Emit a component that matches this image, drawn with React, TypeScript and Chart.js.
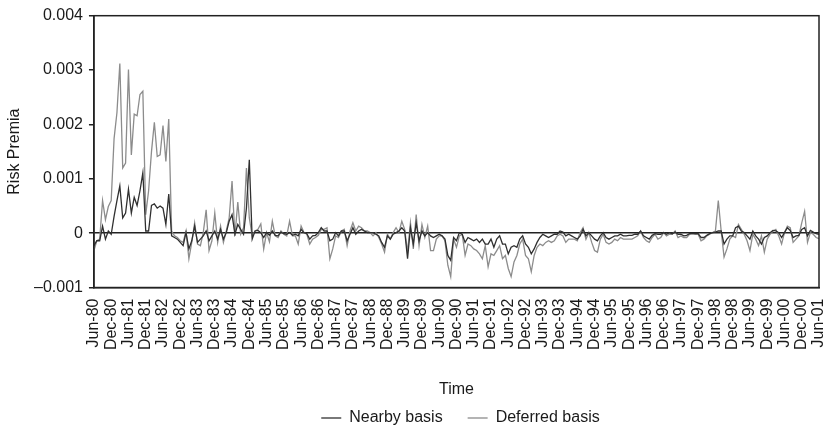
import React, { useEffect, useRef } from "react";
import { Chart, registerables } from "chart.js";

Chart.register(...registerables);

const MONTHS = ["Jan", "Feb", "Mar", "Apr", "May", "Jun", "Jul", "Aug", "Sep", "Oct", "Nov", "Dec"];
// Monthly categories Jun-80 .. Jun-01
const categories: string[] = [];
for (let i = 0; i <= 252; i++) {
  const m = (5 + i) % 12;
  const y = (80 + Math.floor((5 + i) / 12)) % 100;
  categories.push(MONTHS[m] + "-" + String(y).padStart(2, "0"));
}

const nearbyBasis = [
  -0.00023, -0.00014, -0.00014, 0.00013, -0.00011, 0.00004, -0.00002, 0.00031, 0.0006, 0.00087,
  0.00028, 0.00037, 0.00081, 0.00037, 0.00066, 0.00051, 0.00078, 0.00111, 0.00004, 0.00004,
  0.00051, 0.00054, 0.00046, 0.0005, 0.00046, 0.00016, 0.00072, -0.00005, -0.00008, -0.00011,
  -0.00017, -0.00023, 0.00001, -0.00029, -0.00014, 0.00013, -0.00017, -0.00011, -0.00005, 0.00004,
  -0.00014, -0.00005, 0.00004, -0.00011, 0.00007, -0.00011, 0.00001, 0.00022, 0.00034, -0.00002,
  0.00016, 0.00007, -0.00002, 0.00046, 0.00135, -0.00011, 0.00004, 0.00005, 0.00001, -0.00008,
  0.00001, -0.00004, 0.00004, -0.00004, -0.00005, 0.00002, -0.00001, -0.00002, 0.00001, -0.00004,
  -0.00002, -0.00005, 0.00007, 0.00001, -0.00001, -0.00011, -0.00005, -0.00004, 0.00001, 0.0001,
  0.00004, 0.00004, -0.00014, -0.00011, 0.00001, -0.00005, 0.00004, 0.00004, -0.00014, -0.00002,
  0.0001, -0.00002, 0.00004, 0.00007, 0.00004, 0.00001, 0.00001, 0.00001, -0.00002, -0.00005,
  -0.00017, -0.00026, -0.00005, -0.00011, -0.00002, 0.00001, 0.00004, 0.0001, 0.00004, -0.00047,
  0.0001, -0.0002, 0.00019, -0.00014, 0.00004, -0.00005, 0.00001, -0.00005, -0.00008, -0.00005,
  -0.00002, -0.00005, -0.00011, -0.00041, -0.0005, -0.00008, -0.00014, 0.00001, -0.00002, -0.00017,
  -0.00008, -0.00011, -0.00014, -0.00011, -0.00017, -0.00011, -0.0002, -0.0002, -0.00011, -0.00026,
  -0.00011, -0.00005, -0.0002, -0.0002, -0.00038, -0.00026, -0.00023, -0.00026, -0.00011, -0.00005,
  -0.0002, -0.00026, -0.00038, -0.00029, -0.00017, -0.00008, -0.00002, -0.00005, -0.00008, -0.00005,
  -0.00002, -0.00002, 0.00004, 0.00002, -0.00005, -0.00002, -0.00005, -0.00008, -0.00011, -0.00005,
  0.00007, -0.00005, 0.00001, -0.00005, -0.00011, -0.00014, -0.00005, 0.00001, -0.00008, -0.00011,
  -0.00008, -0.00005, -0.00005, -0.00002, -0.00005, -0.00005, -0.00004, -0.00004, -0.00002, -0.00002,
  0.00004, -0.00005, -0.00008, -0.00011, -0.00004, -0.00001, -0.00002, -0.00002, 0.00001, -0.00002,
  0.00001, -0.00001, 0.00002, -0.00002, -0.00002, -0.00005, -0.00004, -0.00001, -0.00001, -0.00001,
  -0.00001, -0.00008, -0.00008, -0.00004, -0.00001, 0.00001, 0.00002, 0.00004, 0.00004, -0.0002,
  -0.00011, -0.00005, -0.00005, 0.0001, 0.00013, 0.00004, 0.00001, -0.00005, -0.00011, 0.00004,
  -0.00005, -0.00011, -0.0002, -0.00008, -0.00005, 0.00001, 0.00005, 0.00004, 0.00001, -0.00008,
  0.00001, 0.0001, 0.00005, -0.00008, -0.00005, -0.00004, 0.00007, 0.0001, -0.00005, 0.00005,
  0.00002, -0.00001, -0.00002,
];

const deferredBasis = [
  -0.00032, -0.00014, -0.00011, 0.0006, 0.00025, 0.00049, 0.0006, 0.00174, 0.00222, 0.00312,
  0.0012, 0.00129, 0.00301, 0.00144, 0.00219, 0.00216, 0.00255, 0.00261, 0.00034, 0.00078,
  0.0015, 0.00204, 0.00141, 0.00144, 0.00198, 0.00132, 0.0021, 0.00004, -0.00005, -0.00008,
  -0.00014, -0.00017, 0.00004, -0.00047, -0.00017, 0.00019, -0.0002, -0.00023, 0.00001, 0.00043,
  -0.00032, -0.00014, 0.00037, -0.00017, 0.00013, -0.00017, 0.00004, 0.00028, 0.00096, -0.00005,
  0.00057, -0.00002, 0.0001, 0.0012, 0.00028, -0.00005, 0.00004, 0.00007, 0.00017, -0.00029,
  0.00001, -0.00016, 0.00022, -0.00005, -0.00008, 0.00004, -0.00002, -0.00005, 0.00022, -0.00005,
  -0.00005, -0.0002, 0.00013, 0.00001, -0.00002, -0.0002, -0.00011, -0.00008, -0.00004, 0.00007,
  0.00007, 0.0001, -0.00047, -0.00029, -0.00005, -0.00008, 0.00004, 0.00007, -0.00023, 0.00004,
  0.00019, 0.00004, 0.00013, 0.0001, 0.00004, 0.00004, 0.00001, -0.00005, 0.00001, -0.00008,
  -0.0002, -0.00035, -0.00002, -0.00011, 0.00001, 0.0001, 0.00001, 0.00022, 0.00007, -0.00035,
  0.00019, -0.00029, 0.00034, -0.00023, 0.00016, -0.00008, 0.00013, -0.00032, -0.00032, -0.00011,
  -0.00005, -0.00005, -0.00014, -0.00059, -0.0008, -0.00011, -0.00026, -0.00005, -0.00002, -0.00041,
  -0.0002, -0.00023, -0.00029, -0.00032, -0.00038, -0.00047, -0.00023, -0.00062, -0.00038, -0.00041,
  -0.00032, -0.00023, -0.00047, -0.00041, -0.00065, -0.0008, -0.00053, -0.00041, -0.0002, -0.00011,
  -0.00041, -0.00047, -0.00071, -0.00041, -0.00026, -0.0002, -0.00023, -0.00017, -0.00014, -0.00017,
  -0.00014, -0.00005, -0.00002, -0.00005, -0.00017, -0.00011, -0.00011, -0.00011, -0.00014, 0.00001,
  0.0001, -0.00011, 0.00001, -0.00017, -0.00032, -0.00035, -0.00011, -0.00002, -0.00017, -0.0002,
  -0.00017, -0.00011, -0.00014, -0.00008, -0.00011, -0.00011, -0.00011, -0.00011, -0.00008, -0.00005,
  0.00004, -0.00008, -0.00014, -0.00017, -0.00008, -0.00002, -0.00011, -0.00008, 0.00001, -0.00005,
  -0.00002, -0.00002, 0.00004, -0.00008, -0.00005, -0.00008, -0.00008, -0.00002, -0.00001, -0.00002,
  -0.00002, -0.00014, -0.00011, -0.00005, -0.00002, 0.00001, 0.00004, 0.0006, 0.00004, -0.00044,
  -0.00029, -0.00011, -0.00005, -0.00008, 0.00016, 0.00007, -0.00002, -0.00014, -0.00032, -0.00002,
  -0.00011, -0.00023, -0.00005, -0.00035, -0.00011, -0.00002, 0.00004, 0.00007, -0.00005, -0.0002,
  0.00001, 0.00013, 0.0001, -0.00017, -0.00011, -0.00005, 0.00019, 0.0004, -0.00017, 0.00001,
  -0.00002, -0.00008, -0.0001,
];

const yTicks = [-0.001, 0, 0.001, 0.002, 0.003, 0.004];

const FONT = "'Liberation Sans', Arial, Helvetica, sans-serif";
const AXIS_COLOR = "#222";
const TEXT_COLOR = "#1a1a1a";

const frame = {
  id: "frame",
  afterLayout(chart: any) {
    // centre the legend under the plot area rather than the whole canvas
    const lg = chart.legend;
    if (lg) {
      const s = chart.chartArea.left + 4;
      const e = chart.chartArea.right + 4;
      lg.left = s;
      lg.right = e;
      lg.width = e - s;
    }
  },
  afterDatasetsDraw(chart: any) {
    const { ctx, chartArea } = chart;
    ctx.save();
    ctx.strokeStyle = AXIS_COLOR;
    ctx.lineWidth = 1.5;
    ctx.strokeRect(chartArea.left, chartArea.top, chartArea.right - chartArea.left, chartArea.bottom - chartArea.top);
    ctx.restore();
  },
};

export default function App() {
  const ref = useRef<HTMLCanvasElement>(null);
  useEffect(() => {
    if (!ref.current) return;
    const chart = new Chart(ref.current, {
      type: "line",
      data: {
        labels: categories,
        datasets: [
          {
            label: "Nearby basis",
            data: nearbyBasis,
            borderColor: "#303030",
            backgroundColor: "#303030",
            borderWidth: 1.3,
            pointRadius: 0,
            tension: 0,
          },
          {
            label: "Deferred basis",
            data: deferredBasis,
            borderColor: "#8c8c8c",
            backgroundColor: "#8c8c8c",
            borderWidth: 1.3,
            pointRadius: 0,
            tension: 0,
          },
        ],
      },
      options: {
        animation: false,
        responsive: false,
        maintainAspectRatio: false,
        layout: { padding: { top: 15.7, right: 7, left: 5, bottom: -9 } },
        plugins: {
          tooltip: { enabled: false },
          legend: {
            position: "bottom",
            labels: {
              usePointStyle: true,
              pointStyle: "line",
              pointStyleWidth: 20,
              boxHeight: 16,
              color: TEXT_COLOR,
              font: { family: FONT, size: 16 },
              padding: 25,
            },
          },
        },
        scales: {
          x: {
            type: "category",
            offset: false,
            afterFit: (axis: any) => {
              axis.paddingRight = 7;
              axis.paddingLeft = 0;
            },
            border: { display: true, color: AXIS_COLOR, width: 1.5 },
            grid: { display: true, drawOnChartArea: false, drawTicks: true, tickLength: 4, color: "rgba(0,0,0,0)" },
            ticks: {
              autoSkip: false,
              maxRotation: 90,
              minRotation: 90,
              padding: 7,
              color: TEXT_COLOR,
              font: { family: FONT, size: 16 },
              callback: function (this: any, value: any, index: number) {
                return index % 6 === 0 ? categories[index] : null;
              },
            },
            title: {
              display: true,
              text: "Time",
              color: TEXT_COLOR,
              font: { family: FONT, size: 16 },
              padding: { top: 23.3, bottom: -14.6 },
            },
          },
          y: {
            min: -0.001,
            max: 0.004,
            border: { display: true, color: AXIS_COLOR, width: 1.5 },
            afterBuildTicks: (axis: any) => {
              axis.ticks = yTicks.map((v) => ({ value: v }));
            },
            grid: {
              display: true,
              drawOnChartArea: true,
              drawTicks: true,
              tickLength: 5,
              lineWidth: 1.5,
              tickColor: AXIS_COLOR,
              color: (ctx: any) => (ctx.tick && ctx.tick.value === 0 ? AXIS_COLOR : "rgba(0,0,0,0)"),
            },
            ticks: {
              padding: 6,
              color: TEXT_COLOR,
              font: { family: FONT, size: 16 },
              callback: (v: any) => {
                const n = Number(v);
                if (Math.abs(n) < 1e-12) return "0";
                return n < 0 ? "\u2013" + Math.abs(n).toFixed(3) : n.toFixed(3);
              },
            },
            title: {
              display: true,
              text: "Risk Premia",
              color: TEXT_COLOR,
              font: { family: FONT, size: 16 },
              padding: { top: 0, bottom: 3.8 },
            },
          },
        },
      },
      plugins: [frame],
    });
    return () => chart.destroy();
  }, []);
  return (
    <div style={{ position: "fixed", left: 0, top: 0, width: 826, height: 427, background: "#fff" }}>
      <canvas ref={ref} width={826} height={427} style={{ width: 826, height: 427 }} />
    </div>
  );
}
